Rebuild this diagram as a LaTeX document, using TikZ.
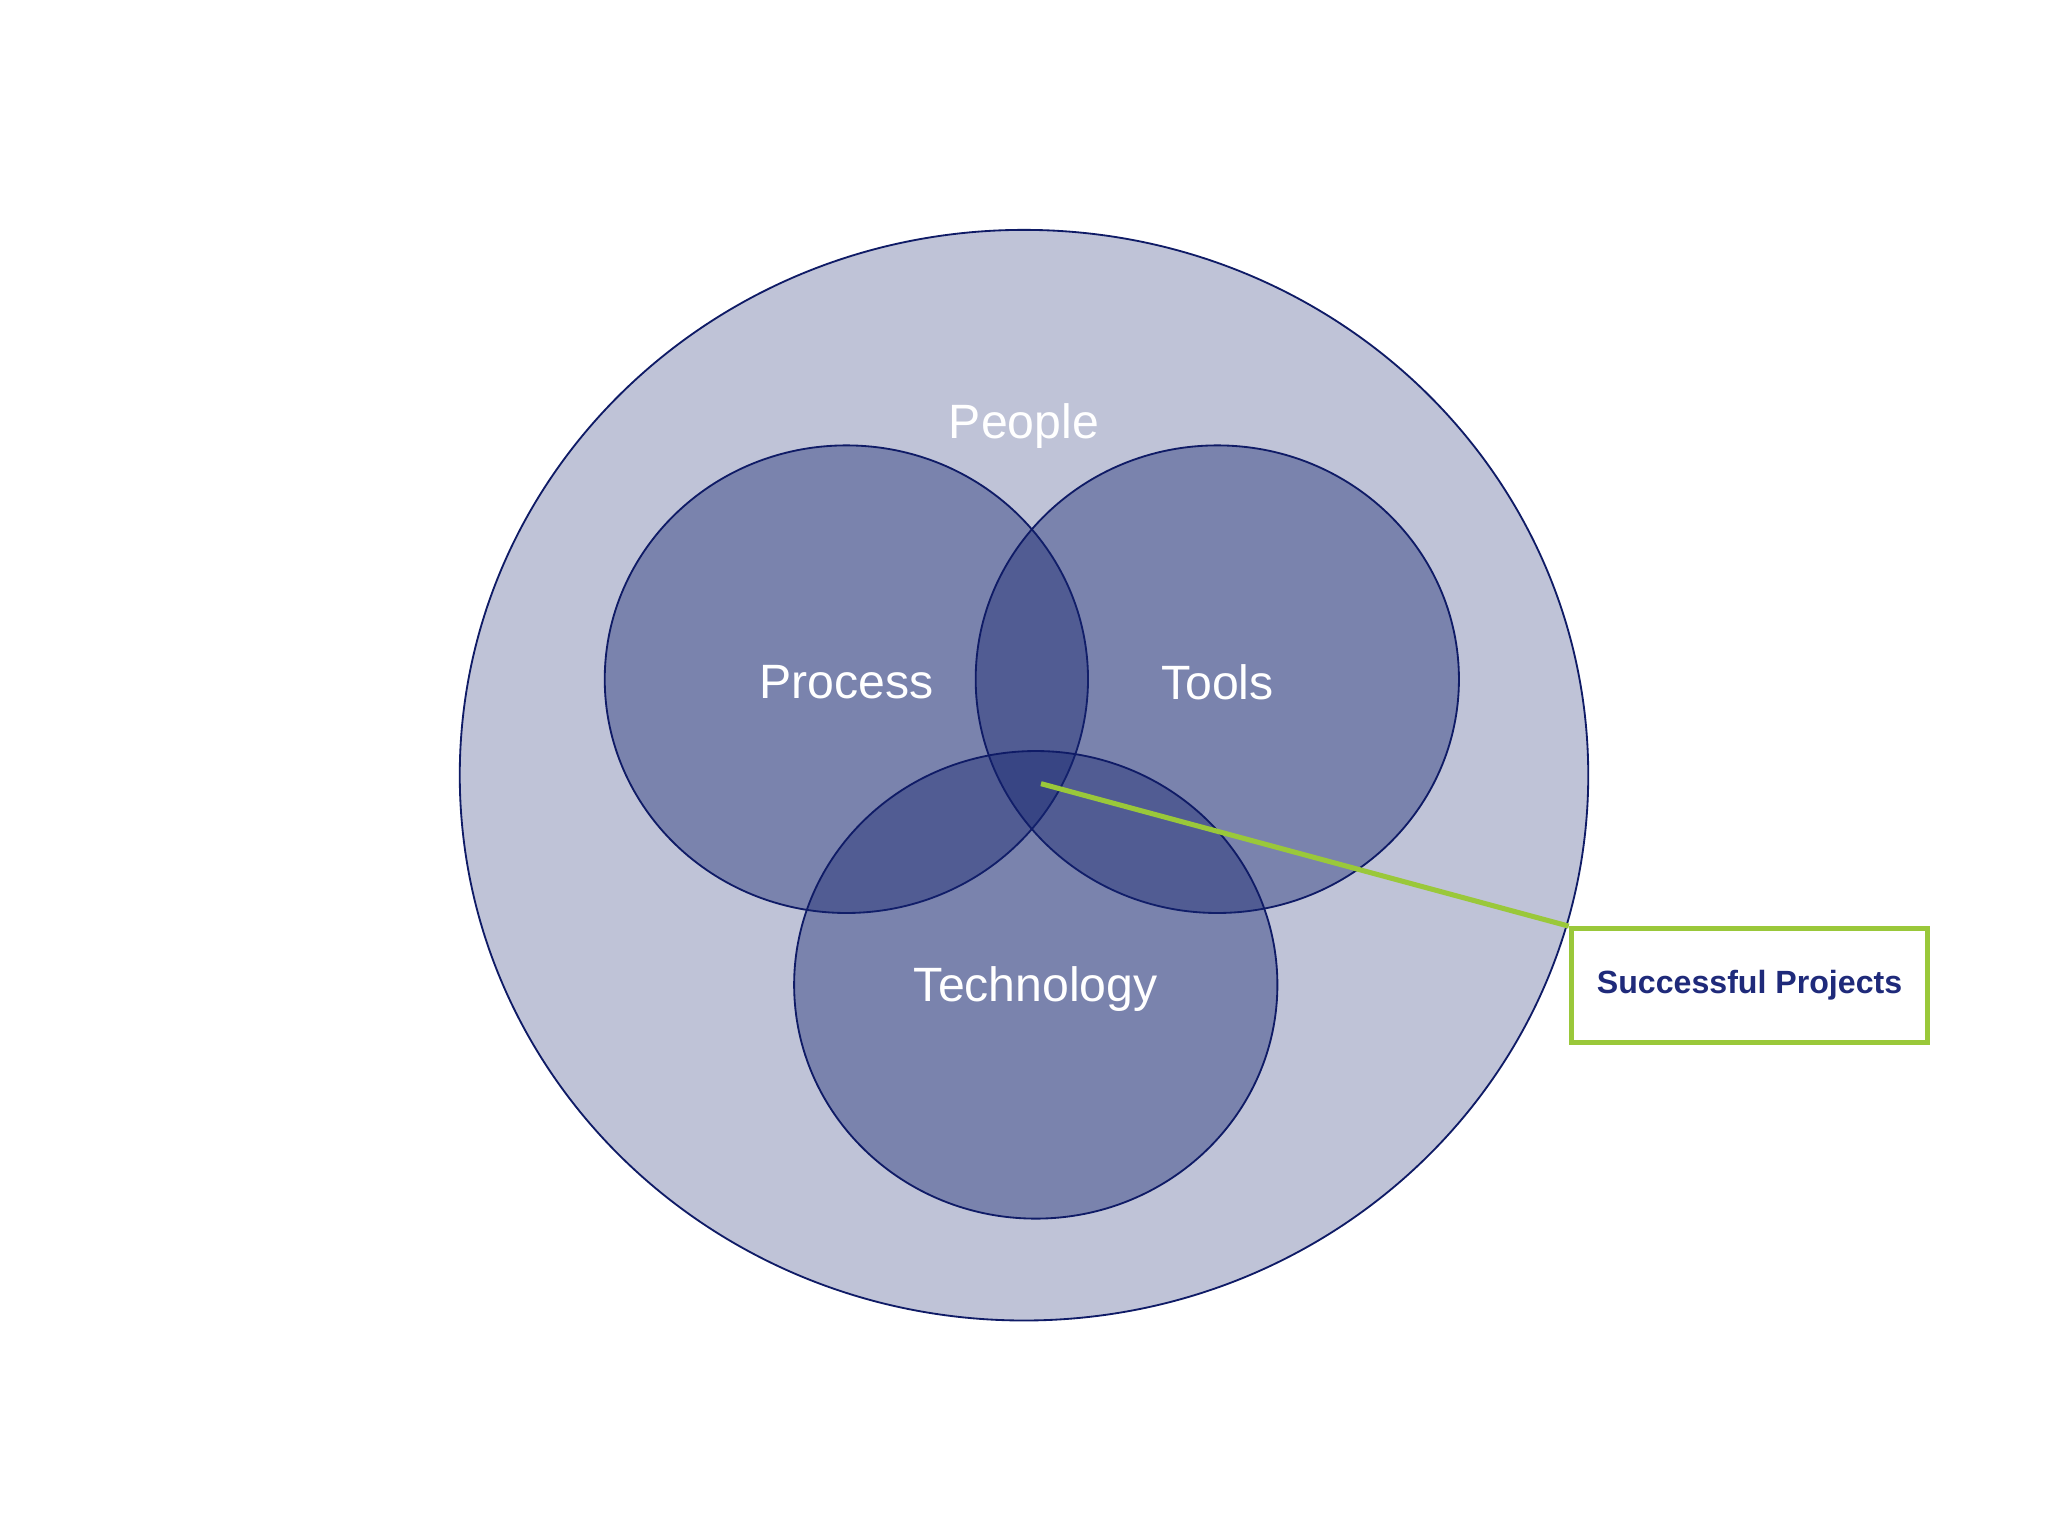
\documentclass[tikz,border=0pt]{standalone}
\usepackage{fontspec}
\setmainfont{Liberation Sans}
\definecolor{navy}{HTML}{14236E}
\definecolor{edge}{HTML}{0F1B66}
\definecolor{lgreen}{HTML}{9AC83A}
\definecolor{txtblue}{HTML}{1F2A7A}
\begin{document}
\begin{tikzpicture}[x=0.02cm,y=-0.02cm,
  blob/.style={fill=navy,fill opacity=0.4,draw=edge,line width=0.8pt,draw opacity=1},
  lbl/.style={text=white,font=\fontsize{21}{25}\selectfont}]
\useasboundingbox (0,0) rectangle (1568,1176);
\fill[white] (0,0) rectangle (1568,1176);
\draw[fill=navy,fill opacity=0.27,draw=edge,line width=0.8pt,draw opacity=1] (784,593.5) ellipse [x radius=432,y radius=417.5];
\draw[blob] (648,520) ellipse [x radius=185,y radius=179];
\draw[blob] (932,520) ellipse [x radius=185,y radius=179];
\draw[blob] (793,754) ellipse [x radius=185,y radius=179];
\node[lbl] (people) at (784,326) {People};
\node[lbl] (process) at (648,522) {Process};
\node[lbl] (tools) at (932,522) {Tools};
\node[lbl] (tech) at (793,757) {Technology};
\node[draw=lgreen,line width=2.2pt,minimum width=273*0.02cm,minimum height=87*0.02cm,text=txtblue,font=\bfseries\fontsize{14}{17}\selectfont] (sp) at (1339.5,754.5) {Successful Projects};
\coordinate (core) at (797,600);
\draw[lgreen,line width=2.2pt] (core) -- (sp.north west);
\end{tikzpicture}
\end{document}
